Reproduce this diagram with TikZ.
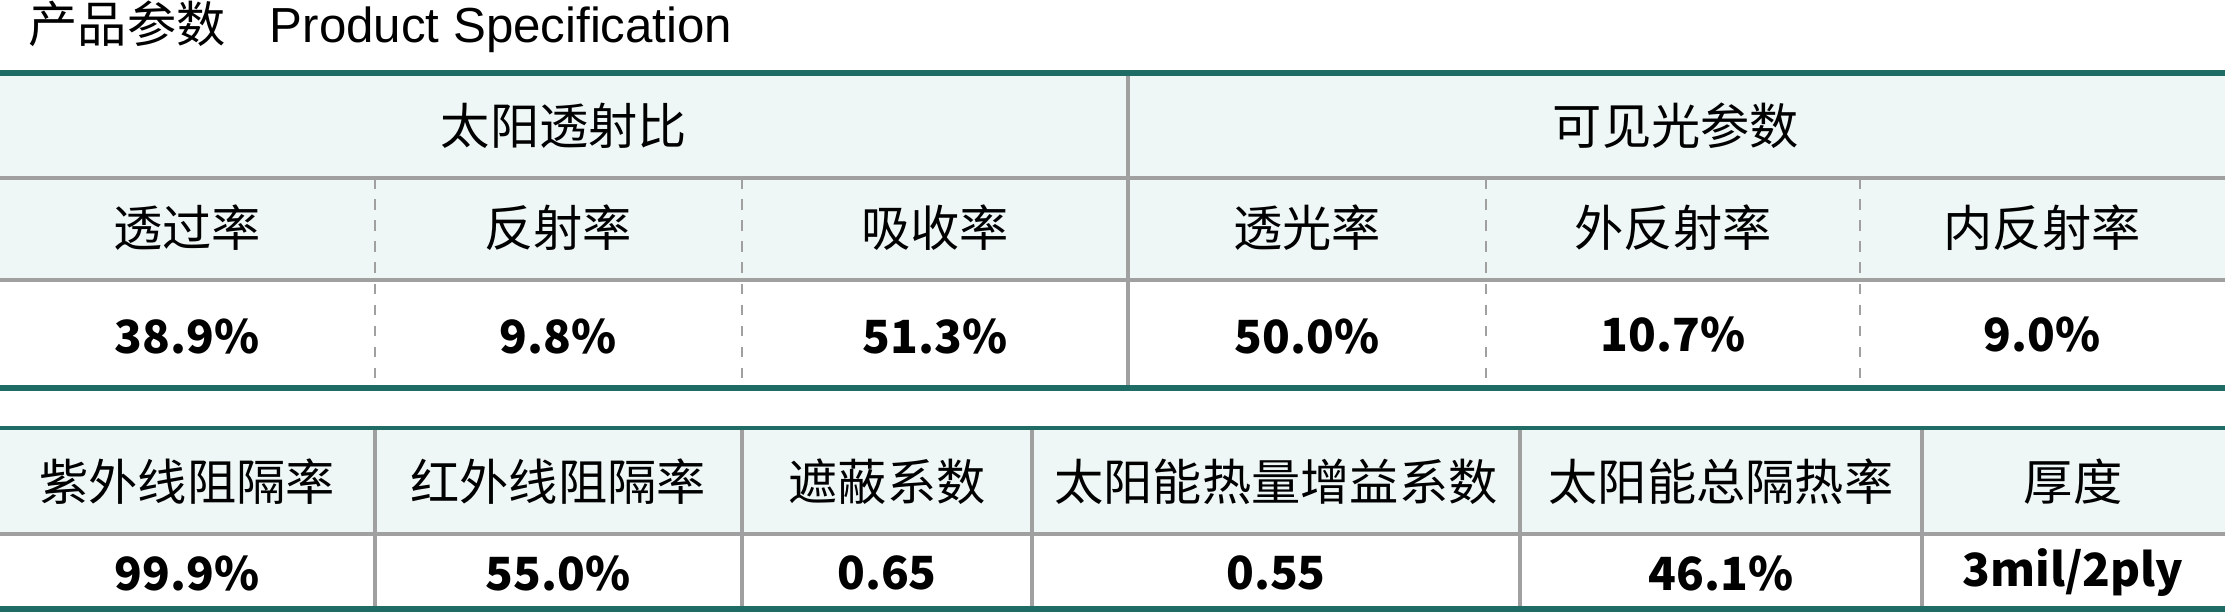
\documentclass[tikz,border=0pt]{standalone}
\usepackage{fontspec}
\setmainfont{Noto Sans CJK SC}
\newfontfamily\latinfont{Liberation Sans}
\definecolor{tealline}{HTML}{1F6B66}
\definecolor{cellfill}{HTML}{EEF7F5}
\definecolor{gridgray}{HTML}{A0A0A0}
\tikzstyle{head}=[font=\fontsize{14}{16}\selectfont, inner sep=0pt]
\tikzstyle{val}=[font=\fontsize{13}{15}\selectfont\bfseries, inner sep=0pt]
\tikzstyle{thick teal}=[tealline, line width=1.6pt]
\tikzstyle{grid}=[gridgray, line width=1pt]
\tikzstyle{griddash}=[gridgray, line width=0.8pt, dashed]

\begin{document}
\begin{tikzpicture}[x=0.01cm,y=-0.01cm]
        \useasboundingbox (0,0) rectangle (2225,612);
        \fill[cellfill] (0,73) rectangle (2225,280);
        \fill[cellfill] (0,428) rectangle (2225,534);
        \draw (28,27) node[anchor=west, inner sep=0pt, font=\fontsize{14}{16}\selectfont](title){产品参数\hspace{0.9em}{\latinfont Product Specification}};
        % table 1
        \draw[grid] (0,178) -- (2225,178);
        \draw[grid] (0,280) -- (2225,280);
        \draw[grid] (1128,73) -- (1128,388);
        \foreach \x in {375,742,1486,1860} \draw[griddash] (\x,178) -- (\x,388);
        \draw[thick teal] (0,73) -- (2225,73);
        \draw[thick teal] (0,388) -- (2225,388);
        \draw (564,126) node[head](solar){太阳透射比};
        \draw (1676,126) node[head](visible){可见光参数};
        \draw (187,228) node[head](h1){透过率};
        \draw (558,228) node[head](h2){反射率};
        \draw (935,228) node[head](h3){吸收率};
        \draw (1307,228) node[head](h4){透光率};
        \draw (1673,228) node[head](h5){外反射率};
        \draw (2042,228) node[head](h6){内反射率};
        \draw (187,336) node[val](v1){38.9\%};
        \draw (558,336) node[val](v2){9.8\%};
        \draw (935,336) node[val](v3){51.3\%};
        \draw (1307,336) node[val](v4){50.0\%};
        \draw (1673,334) node[val](v5){10.7\%};
        \draw (2042,334) node[val](v6){9.0\%};
        % table 2
        \draw[grid] (0,534) -- (2225,534);
        \foreach \x in {375,742,1032,1520,1922} \draw[grid] (\x,428) -- (\x,609);
        \draw[tealline, line width=1pt] (0,428) -- (2225,428);
        \draw[thick teal] (0,609) -- (2225,609);
        \draw (187,482) node[head](k1){紫外线阻隔率};
        \draw (558,482) node[head](k2){红外线阻隔率};
        \draw (887,482) node[head](k3){遮蔽系数};
        \draw (1276,482) node[head](k4){太阳能热量增益系数};
        \draw (1721,482) node[head](k5){太阳能总隔热率};
        \draw (2073,482) node[head](k6){厚度};
        \draw (187,573) node[val](w1){99.9\%};
        \draw (558,573) node[val](w2){55.0\%};
        \draw (887,573) node[val](w3){0.65};
        \draw (1276,573) node[val](w4){0.55};
        \draw (1721,573) node[val](w5){46.1\%};
        \draw (2073,573) node[val](w6){3mil/2ply};
\end{tikzpicture}
\end{document}
